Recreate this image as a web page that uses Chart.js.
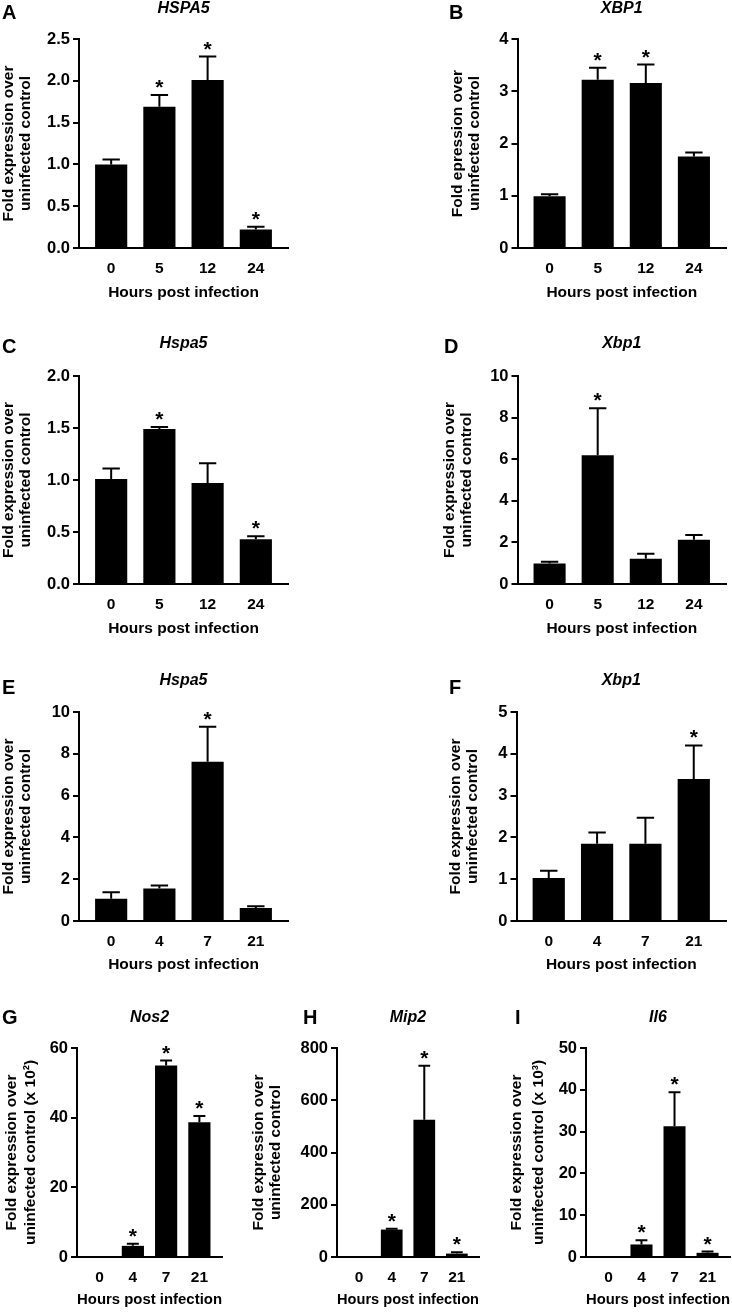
<!DOCTYPE html>
<html>
<head>
<meta charset="utf-8">
<script src="https://cdn.jsdelivr.net/npm/chart.js@4/dist/chart.umd.min.js"></script>
<style>
  html, body { margin: 0; padding: 0; background: #fff; }
  #fig { position: relative; width: 732px; height: 1312px; }
  #fig canvas { position: absolute; }
</style>
</head>
<body>
<div id="fig"></div>
<script>
// x tick labels (hours post infection)
const hoursEarly = ['0', '5', '12', '24'];
const hoursLate = ['0', '4', '7', '21'];

// A - HSPA5
const hspa5A = [1.00, 1.69, 2.01, 0.22];
const hspa5AErr = [0.06, 0.14, 0.28, 0.035];
const hspa5AStar = [false, true, true, true];
// B - XBP1
const xbp1B = [0.99, 3.22, 3.16, 1.75];
const xbp1BErr = [0.04, 0.23, 0.35, 0.08];
const xbp1BStar = [false, true, true, false];
// C - Hspa5
const hspa5C = [1.01, 1.49, 0.97, 0.43];
const hspa5CErr = [0.10, 0.02, 0.19, 0.03];
const hspa5CStar = [false, true, false, true];
// D - Xbp1
const xbp1D = [0.98, 6.19, 1.21, 2.13];
const xbp1DErr = [0.09, 2.26, 0.25, 0.22];
const xbp1DStar = [false, true, false, false];
// E - Hspa5
const hspa5E = [1.06, 1.55, 7.62, 0.62];
const hspa5EErr = [0.31, 0.15, 1.68, 0.09];
const hspa5EStar = [false, false, true, false];
// F - Xbp1
const xbp1F = [1.03, 1.85, 1.85, 3.40];
const xbp1FErr = [0.17, 0.27, 0.62, 0.80];
const xbp1FStar = [false, false, false, true];
// G - Nos2 (x 10^2)
const nos2 = [0.01, 3.2, 55.0, 38.7];
const nos2Err = [0, 0.6, 1.4, 1.8];
const nos2Star = [false, true, true, true];
// H - Mip2
const mip2 = [1, 105, 525, 13];
const mip2Err = [0, 3, 207, 5];
const mip2Star = [false, true, true, true];
// I - Il6 (x 10^3)
const il6 = [0.001, 3.0, 31.3, 1.0];
const il6Err = [0, 1.0, 8.1, 0.3];
const il6Star = [false, true, true, true];

const FONT = "'Liberation Sans', Arial, Helvetica, sans-serif";
Chart.defaults.font.family = FONT;
Chart.defaults.font.weight = 'bold';
Chart.defaults.color = '#000';

const yTitleStd = ['Fold expression over', 'uninfected control'];

const panels = [
  { letter: 'A', gene: 'HSPA5', labels: hoursEarly, values: hspa5A, errors: hspa5AErr, stars: hspa5AStar,
    yMax: 2.5, step: 0.5, dec: 1, yTitle: yTitleStd, titleLH: 17,
    box: [0, 0, 366, 302], padL: 0, padT: 39, padR: 78, yW: 79, xH: 54, off: 0.667, letterPos: [2, 13], geneY: 9 },
  { letter: 'B', gene: 'XBP1', labels: hoursEarly, values: xbp1B, errors: xbp1BErr, stars: xbp1BStar,
    yMax: 4, step: 1, dec: 0, yTitle: ['Fold epression over', 'uninfected control'], titleLH: 17,
    box: [366, 0, 366, 302], padL: 83.5, padT: 39, padR: 6, yW: 68, xH: 54, off: 0.667, letterPos: [83, 13], geneY: 9 },
  { letter: 'C', gene: 'Hspa5', labels: hoursEarly, values: hspa5C, errors: hspa5CErr, stars: hspa5CStar,
    yMax: 2.0, step: 0.5, dec: 1, yTitle: yTitleStd, titleLH: 17,
    box: [0, 330, 366, 308], padL: 0, padT: 46, padR: 78, yW: 79, xH: 54, off: 0.667, letterPos: [2, 17], geneY: 14 },
  { letter: 'D', gene: 'Xbp1', labels: hoursEarly, values: xbp1D, errors: xbp1DErr, stars: xbp1DStar,
    yMax: 10, step: 2, dec: 0, yTitle: yTitleStd, titleLH: 17,
    box: [366, 330, 366, 308], padL: 75.5, padT: 46, padR: 6, yW: 76, xH: 54, off: 0.667, letterPos: [78, 17], geneY: 14 },
  { letter: 'E', gene: 'Hspa5', labels: hoursLate, values: hspa5E, errors: hspa5EErr, stars: hspa5EStar,
    yMax: 10, step: 2, dec: 0, yTitle: yTitleStd, titleLH: 17,
    box: [0, 665, 366, 309], padL: 0, padT: 47, padR: 78, yW: 79, xH: 53, off: 0.667, letterPos: [2, 23], geneY: 16 },
  { letter: 'F', gene: 'Xbp1', labels: hoursLate, values: xbp1F, errors: xbp1FErr, stars: xbp1FStar,
    yMax: 5, step: 1, dec: 0, yTitle: yTitleStd, titleLH: 17,
    box: [366, 665, 366, 309], padL: 81.5, padT: 47, padR: 6, yW: 69, xH: 53, off: 0.667, letterPos: [83, 23], geneY: 16 },
  { letter: 'G', gene: 'Nos2', labels: hoursLate, values: nos2, errors: nos2Err, stars: nos2Star,
    yMax: 60, step: 20, dec: 0, yTitle: ['Fold expression over', 'uninfected control (x 10²)'], titleLH: 19,
    box: [0, 1003, 244, 306], padL: 2, padT: 45, padR: 22, yW: 75, xH: 52, off: 0.68, letterPos: [2, 15], geneY: 15 },
  { letter: 'H', gene: 'Mip2', labels: hoursLate, values: mip2, errors: mip2Err, stars: mip2Star,
    yMax: 800, step: 200, dec: 0, yTitle: yTitleStd, titleLH: 17,
    box: [244, 1003, 244, 306], padL: 6.5, padT: 45, padR: 9, yW: 86.5, xH: 52, off: 0.68, letterPos: [59, 15], geneY: 15 },
  { letter: 'I', gene: 'Il6', labels: hoursLate, values: il6, errors: il6Err, stars: il6Star,
    yMax: 50, step: 10, dec: 0, yTitle: ['Fold expression over', 'uninfected control (x 10³)'], titleLH: 22,
    box: [488, 1003, 244, 306], padL: 17.7, padT: 45, padR: 2, yW: 80.3, xH: 52, off: 0.68, letterPos: [27, 15], geneY: 15 }
];

// upward SEM bars + significance asterisks
const errorBars = {
  id: 'errorBars',
  afterDatasetsDraw(chart) {
    const { ctx } = chart;
    const yScale = chart.scales.y;
    const ds = chart.data.datasets[0];
    const meta = chart.getDatasetMeta(0);
    ctx.save();
    ctx.strokeStyle = '#000';
    ctx.fillStyle = '#000';
    ctx.lineWidth = 2;
    ctx.font = 'bold 21px ' + FONT;
    ctx.textAlign = 'center';
    ctx.textBaseline = 'alphabetic';
    meta.data.forEach((bar, i) => {
      const top = yScale.getPixelForValue(ds.data[i].y + ds.errors[i]);
      const half = bar.width * 0.27;
      if (ds.errors[i] > 0) {
        ctx.beginPath();
        ctx.moveTo(bar.x, bar.y);
        ctx.lineTo(bar.x, top);
        ctx.moveTo(bar.x - half, top);
        ctx.lineTo(bar.x + half, top);
        ctx.stroke();
      }
      if (ds.stars[i]) ctx.fillText('*', bar.x, top - 1);
    });
    ctx.restore();
  }
};

const panelText = {
  id: 'panelText',
  afterDraw(chart, args, opts) {
    const { ctx, chartArea } = chart;
    ctx.save();
    ctx.fillStyle = '#000';
    ctx.textBaseline = 'middle';
    ctx.textAlign = 'left';
    ctx.font = 'bold 20px ' + FONT;
    ctx.fillText(opts.letter, opts.letterX, opts.letterY);
    ctx.textAlign = 'center';
    ctx.font = 'italic bold 16px ' + FONT;
    ctx.fillText(opts.gene, (chartArea.left + chartArea.right) / 2, opts.geneY);
    ctx.restore();
  }
};

function makePanel(p) {
  const canvas = document.createElement('canvas');
  canvas.width = p.box[2];
  canvas.height = p.box[3];
  canvas.style.left = p.box[0] + 'px';
  canvas.style.top = p.box[1] + 'px';
  document.getElementById('fig').appendChild(canvas);

  new Chart(canvas, {
    type: 'bar',
    data: {
      datasets: [{
        data: p.values.map((v, i) => ({ x: i, y: v })),
        errors: p.errors,
        stars: p.stars,
        backgroundColor: '#000',
        borderWidth: 0,
        barPercentage: 0.667,
        categoryPercentage: 1
      }]
    },
    plugins: [errorBars, panelText],
    options: {
      responsive: false,
      animation: false,
      devicePixelRatio: 1,
      layout: { padding: { left: p.padL, top: p.padT, right: p.padR, bottom: 0 } },
      plugins: {
        legend: { display: false },
        tooltip: { enabled: false },
        panelText: { letter: p.letter, gene: p.gene, letterX: p.letterPos[0], letterY: p.letterPos[1], geneY: p.geneY }
      },
      scales: {
        x: {
          type: 'linear',
          offset: false,
          min: -p.off,
          max: p.labels.length - 1 + p.off,
          afterBuildTicks: s => { s.ticks = p.labels.map((_, i) => ({ value: i })); },
          afterFit: s => { s.height = p.xH; },
          grid: { display: false, drawTicks: false, offset: false },
          border: { display: true, color: '#000', width: 2 },
          ticks: {
            callback: v => p.labels[v],
            font: { size: 15.5, weight: 'bold' },
            color: '#000',
            padding: 11,
            autoSkip: false,
            maxRotation: 0
          },
          title: {
            display: true,
            text: 'Hours post infection',
            font: { size: 15.5, weight: 'bold', lineHeight: '18px' },
            color: '#000',
            padding: 0
          }
        },
        y: {
          min: 0,
          max: p.yMax,
          afterFit: s => { s.width = p.yW; },
          ticks: {
            stepSize: p.step,
            callback: v => v.toFixed(p.dec),
            font: { size: 16.5, weight: 'bold' },
            color: '#000',
            padding: 3
          },
          grid: { drawOnChartArea: false, drawTicks: true, tickLength: 6, color: '#000', lineWidth: 2 },
          border: { display: true, color: '#000', width: 2 },
          title: {
            display: true,
            text: p.yTitle,
            font: { size: 15.5, weight: 'bold', lineHeight: p.titleLH + 'px' },
            color: '#000',
            padding: 0
          }
        }
      }
    }
  });
}

panels.forEach(makePanel);
</script>
</body>
</html>
